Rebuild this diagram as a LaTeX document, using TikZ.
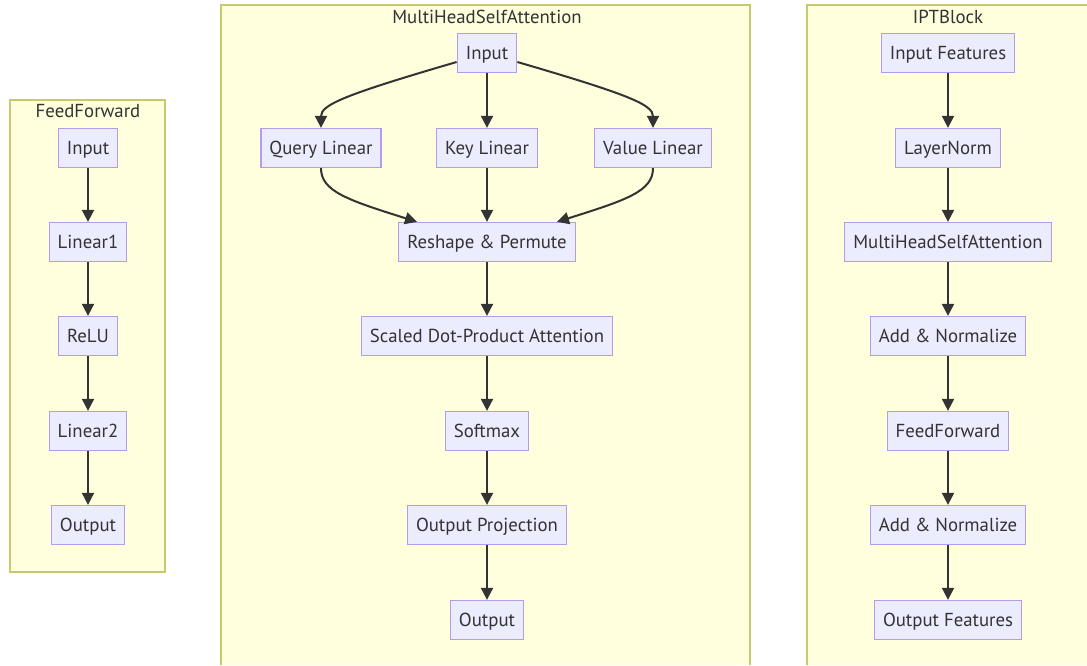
\documentclass[tikz,border=0pt]{standalone}
\usepackage{fontspec}
\setmainfont{PT Sans}
\usepackage{tikz}
\usetikzlibrary{
  arrows.meta,
  positioning,
  calc
}
\definecolor{grpfill}{HTML}{FFFFDE}
\definecolor{grpline}{HTML}{C8C86E}
\definecolor{blkfill}{HTML}{ECECFF}
\definecolor{blkline}{HTML}{B39CEB}
\definecolor{inkgray}{HTML}{333333}

\begin{document}
\begin{tikzpicture}[x=1pt,y=1pt,
  blk/.style={draw=blkline,fill=blkfill,line width=1.3pt,text=inkgray,
    font=\fontsize{18.8}{20}\selectfont,minimum height=39pt,
    text height=14pt,text depth=2pt,inner xsep=8.5pt,inner ysep=0pt},
  ttl/.style={text=inkgray,font=\fontsize{18.8}{20}\selectfont,inner sep=0pt},
  flow/.style={draw=inkgray,line width=2pt,-{Triangle[length=12pt,width=12pt]}}]
  \useasboundingbox (0,0) rectangle (1087,-665);

  % FeedForward
  \draw[grpline,fill=grpfill,line width=1.3pt] (10,-100) rectangle (165,-572);
  \node[ttl] (fftitle) at (88,-111) {FeedForward};
  \node[blk] (ffin) at (88,-148) {Input};
  \node[blk] (ffla) at (88,-242) {Linear1};
  \node[blk] (ffrelu) at (88,-336) {ReLU};
  \node[blk] (fflb) at (88,-431) {Linear2};
  \node[blk] (ffout) at (88,-525) {Output};
  \draw[flow] (ffin) -- (ffla);
  \draw[flow] (ffla) -- (ffrelu);
  \draw[flow] (ffrelu) -- (fflb);
  \draw[flow] (fflb) -- (ffout);

  % MultiHeadSelfAttention
  \fill[grpfill] (221,-5) rectangle (750,-665);
  \draw[grpline,line width=1.3pt] (221,-665) -- (221,-5) -- (750,-5) -- (750,-665);
  \node[ttl] (mhtitle) at (487,-17) {MultiHeadSelfAttention};
  \node[blk] (mhin) at (487,-53) {Input};
  \node[blk] (qlin) at (321,-148) {Query Linear};
  \node[blk] (klin) at (487,-148) {Key Linear};
  \node[blk] (vlin) at (653,-148) {Value Linear};
  \node[blk] (perm) at (487,-242) {Reshape \& Permute};
  \node[blk] (sdpa) at (487,-336) {Scaled Dot-Product Attention};
  \node[blk] (smax) at (487,-431) {Softmax};
  \node[blk] (oproj) at (487,-525) {Output Projection};
  \node[blk] (mhout) at (487,-620) {Output};
  \draw[flow] ([yshift=-9pt]mhin.west) .. controls +(-113,-33) and +(0,23) .. (qlin.north);
  \draw[flow] (mhin) -- (klin);
  \draw[flow] ([yshift=-9pt]mhin.east) .. controls +(113,-33) and +(0,23) .. (vlin.north);
  \draw[flow] (qlin.south) .. controls +(0,-23) and +(-70,22) .. ([xshift=-70pt]perm.north);
  \draw[flow] (klin) -- (perm);
  \draw[flow] (vlin.south) .. controls +(0,-23) and +(70,22) .. ([xshift=70pt]perm.north);
  \draw[flow] (perm) -- (sdpa);
  \draw[flow] (sdpa) -- (smax);
  \draw[flow] (smax) -- (oproj);
  \draw[flow] (oproj) -- (mhout);

  % IPTBlock
  \fill[grpfill] (807,-5) rectangle (1087,-665);
  \draw[grpline,line width=1.3pt] (807,-665) -- (807,-5) -- (1087,-5);
  \node[ttl] (ipttitle) at (948,-17) {IPTBlock};
  \node[blk] (infeat) at (948,-53) {Input Features};
  \node[blk] (lnorm) at (948,-148) {LayerNorm};
  \node[blk] (attn) at (948,-242) {MultiHeadSelfAttention};
  \node[blk] (addna) at (948,-336) {Add \& Normalize};
  \node[blk] (ffwd) at (948,-431) {FeedForward};
  \node[blk] (addnb) at (948,-525) {Add \& Normalize};
  \node[blk] (outfeat) at (948,-620) {Output Features};
  \draw[flow] (infeat) -- (lnorm);
  \draw[flow] (lnorm) -- (attn);
  \draw[flow] (attn) -- (addna);
  \draw[flow] (addna) -- (ffwd);
  \draw[flow] (ffwd) -- (addnb);
  \draw[flow] (addnb) -- (outfeat);
\end{tikzpicture}
\end{document}
